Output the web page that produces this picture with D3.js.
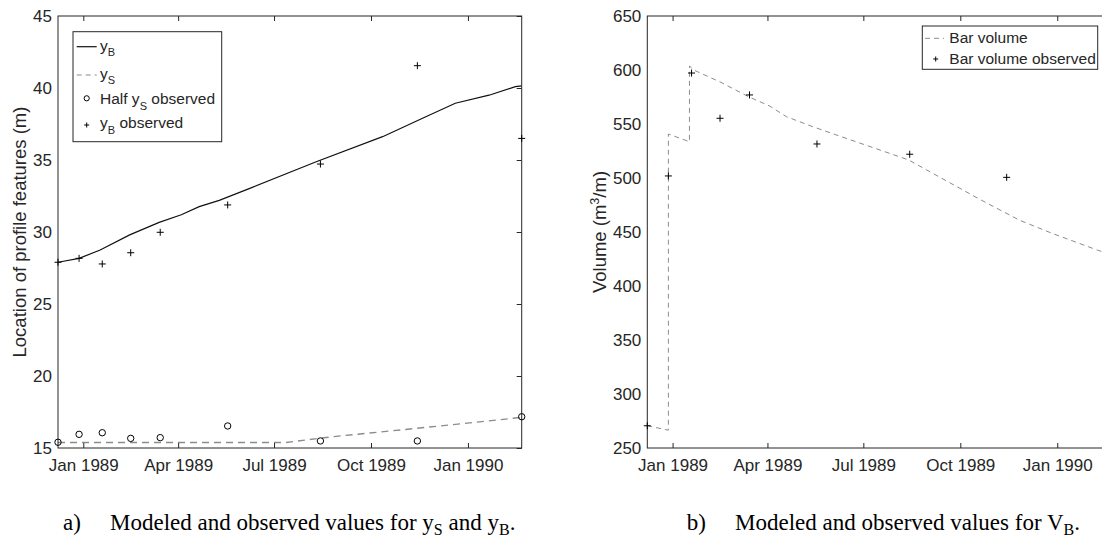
<!DOCTYPE html>
<html>
<head>
<meta charset="utf-8">
<script src="https://cdn.jsdelivr.net/npm/d3@7"></script>
<style>
  body { margin: 0; background: #fff; }
  text { font-family: "Liberation Sans", Arial, sans-serif; fill: #262626; }
  .caption text { font-family: "Liberation Serif", "Times New Roman", serif; fill: #000; }
</style>
</head>
<body>
<svg id="chart"></svg>
<script>
// observation dates (same for both panels)
var obsDates = ['1988-12-08', '1988-12-28', '1989-01-19', '1989-02-15', '1989-03-15',
                '1989-05-18', '1989-08-14', '1989-11-14', '1990-02-21'];
var yBObserved = [27.9, 28.17, 27.78, 28.56, 29.98, 31.88, 34.72, 41.55, 36.5];
var halfYSObserved = [15.4, 15.95, 16.06, 15.67, 15.72, 16.53, 15.49, 15.49, 17.17];
var volObserved = [270.6, 501.9, 597.2, 555.3, 576.9, 531.5, 522, 500.6];

// modeled y_B
var yBDates = ['1988-12-08', '1988-12-28', '1989-01-17', '1989-02-14', '1989-03-14', '1989-04-04',
               '1989-04-21', '1989-05-10', '1989-06-08', '1989-08-10', '1989-10-12', '1989-11-22',
               '1989-12-20', '1990-01-21', '1990-02-15', '1990-02-21'];
var yBModel = [27.9, 28.17, 28.75, 29.8, 30.67, 31.2, 31.76, 32.2, 33.03, 34.88, 36.62, 38.0,
               38.94, 39.5, 40.09, 40.15];

// modeled y_S
var ySDates = ['1988-12-08', '1989-07-12', '1989-08-25', '1989-11-14', '1990-01-14', '1990-02-21'];
var ySModel = [15.38, 15.38, 15.78, 16.37, 16.83, 17.13];

// modeled bar volume (jumps repeat a date)
var volDates = ['1988-12-08', '1988-12-28', '1988-12-28', '1989-01-17', '1989-01-17', '1989-01-21',
                '1989-02-15', '1989-03-14', '1989-04-03', '1989-04-19', '1989-05-14', '1989-06-05',
                '1989-08-13', '1989-10-19', '1989-11-26', '1989-12-27', '1990-02-08', '1990-02-21'];
var volModel = [270.6, 266.5, 540.7, 533.6, 603.7, 600, 589, 575.3, 566.7, 556.8, 547.5, 540,
                516.7, 480.5, 461, 448.8, 433.3, 429];

var xTickLabels = ['1989-01-01', '1989-04-01', '1989-07-01', '1989-10-01', '1990-01-01'];
var yTicksA = [15, 20, 25, 30, 35, 40, 45];
var yTicksB = [250, 300, 350, 400, 450, 500, 550, 600, 650];

var parse = d3.timeParse('%Y-%m-%d');
var plotTop = 16, plotBottom = 448;
var xDomain = [parse('1988-12-08'), parse('1990-02-21')];

var svg = d3.select('#chart').attr('width', 1102).attr('height', 540);

var plus = 'M-3.5,0H3.5M0,-3.5V3.5';

function pairs(dates, vals) {
  return dates.map(function(d, i) { return [parse(d), vals[i]]; });
}

// text with subscript / superscript parts
function richText(t, parts, size, shift, small) {
  var pending = 0;
  parts.forEach(function(p) {
    var s;
    if (p.sub !== undefined || p.sup !== undefined) {
      var d = p.sub !== undefined ? shift : -shift;
      s = t.append('tspan').attr('font-size', small).attr('dy', pending + d)
        .text(p.sub !== undefined ? p.sub : p.sup);
      pending = -d;
    } else {
      s = t.append('tspan').attr('dy', pending).text(p.t);
      pending = 0;
    }
  });
  return t;
}

function drawAxes(x, y, yTicks, rightTicks) {
  var ticks = xTickLabels.map(parse);
  var xl = x.range()[0], xr = x.range()[1];

  var gb = svg.append('g').attr('transform', 'translate(0,' + plotBottom + ')')
    .call(d3.axisBottom(x).tickValues(ticks).tickFormat(d3.timeFormat('%b %Y'))
      .tickSizeInner(-5).tickSizeOuter(0).tickPadding(11));
  var gt = svg.append('g').attr('transform', 'translate(0,' + plotTop + ')')
    .call(d3.axisTop(x).tickValues(ticks).tickFormat('').tickSizeInner(-5).tickSizeOuter(0));
  var gl = svg.append('g').attr('transform', 'translate(' + xl + ',0)')
    .call(d3.axisLeft(y).tickValues(yTicks).tickSize(0).tickPadding(6));
  var all = [gb, gt, gl];
  if (rightTicks) {
    all.push(svg.append('g').attr('transform', 'translate(' + xr + ',0)')
      .call(d3.axisRight(y).tickValues(yTicks).tickFormat('').tickSizeInner(-5).tickSizeOuter(0)));
  }
  all.forEach(function(g) {
    g.select('.domain').remove();
    g.selectAll('line').attr('stroke', '#262626');
    g.selectAll('text').attr('font-size', 17).attr('fill', '#262626')
      .attr('font-family', '"Liberation Sans", Arial, sans-serif');
  });

  svg.append('rect')
    .attr('x', xl).attr('y', plotTop)
    .attr('width', xr - xl).attr('height', plotBottom - plotTop)
    .attr('fill', 'none').attr('stroke', '#262626').attr('stroke-width', 1);
}

// ---------- panel a ----------
var xA = d3.scaleTime().domain(xDomain).range([58, 521.7]);
var yA = d3.scaleLinear().domain([15, 45]).range([plotBottom, plotTop]);

svg.append('clipPath').attr('id', 'clipA').append('rect')
  .attr('x', 58).attr('y', plotTop).attr('width', 521.7 - 58).attr('height', plotBottom - plotTop);

var lineA = d3.line().x(function(d) { return xA(d[0]); }).y(function(d) { return yA(d[1]); });

svg.append('path').datum(pairs(ySDates, ySModel))
  .attr('clip-path', 'url(#clipA)')
  .attr('d', lineA).attr('fill', 'none')
  .attr('stroke', '#8c8c8c').attr('stroke-width', 1.4).attr('stroke-dasharray', '7,5');

svg.append('path').datum(pairs(yBDates, yBModel))
  .attr('clip-path', 'url(#clipA)')
  .attr('d', lineA).attr('fill', 'none')
  .attr('stroke', '#111').attr('stroke-width', 1.2);

drawAxes(xA, yA, yTicksA, true);

svg.selectAll('circle.halfys')
  .data(pairs(obsDates, halfYSObserved))
  .enter().append('circle')
  .attr('class', 'halfys')
  .attr('cx', function(d) { return xA(d[0]); })
  .attr('cy', function(d) { return yA(d[1]); })
  .attr('r', 3.2).attr('fill', 'none').attr('stroke', '#000').attr('stroke-width', 1);

svg.selectAll('path.ybobs')
  .data(pairs(obsDates, yBObserved))
  .enter().append('path')
  .attr('class', 'ybobs')
  .attr('transform', function(d) { return 'translate(' + xA(d[0]) + ',' + yA(d[1]) + ')'; })
  .attr('d', plus).attr('stroke', '#000').attr('stroke-width', 1);

svg.append('text')
  .attr('transform', 'translate(26,' + (plotTop + plotBottom) / 2 + ') rotate(-90)')
  .attr('text-anchor', 'middle').attr('font-size', 18.5)
  .text('Location of profile features (m)');

// legend a
var legA = svg.append('g');
legA.append('rect').attr('x', 73).attr('y', 31.7).attr('width', 148.7).attr('height', 110)
  .attr('fill', '#fff').attr('stroke', '#262626');
legA.append('line').attr('x1', 76.7).attr('x2', 96.7).attr('y1', 46.7).attr('y2', 46.7)
  .attr('stroke', '#111').attr('stroke-width', 1.2);
legA.append('line').attr('x1', 76.7).attr('x2', 96.7).attr('y1', 75).attr('y2', 75)
  .attr('stroke', '#8c8c8c').attr('stroke-width', 1.2).attr('stroke-dasharray', '5,4');
legA.append('circle').attr('cx', 86.7).attr('cy', 98.3).attr('r', 2.6)
  .attr('fill', 'none').attr('stroke', '#000');
legA.append('path').attr('transform', 'translate(86.7,125)').attr('d', 'M-2.5,0H2.5M0,-2.5V2.5')
  .attr('stroke', '#000');

[[50.7, [{t: 'y'}, {sub: 'B'}]],
 [78.7, [{t: 'y'}, {sub: 'S'}]],
 [104, [{t: 'Half y'}, {sub: 'S'}, {t: ' observed'}]],
 [128.3, [{t: 'y'}, {sub: 'B'}, {t: ' observed'}]]].forEach(function(e) {
  richText(legA.append('text').attr('x', 100).attr('y', e[0]).attr('font-size', 15.5), e[1], 15.5, 5.5, 11);
});

// ---------- panel b ----------
var xB = d3.scaleTime().domain(xDomain).range([647.3, 647.3 + 463.7]);
var yB = d3.scaleLinear().domain([250, 650]).range([plotBottom, plotTop]);

var lineB = d3.line().x(function(d) { return xB(d[0]); }).y(function(d) { return yB(d[1]); });

svg.append('path').datum(pairs(volDates, volModel))
  .attr('d', lineB).attr('fill', 'none')
  .attr('stroke', '#8c8c8c').attr('stroke-width', 1).attr('stroke-dasharray', '5,4');

drawAxes(xB, yB, yTicksB, false);

svg.selectAll('path.volobs')
  .data(pairs(obsDates.slice(0, volObserved.length), volObserved))
  .enter().append('path')
  .attr('class', 'volobs')
  .attr('transform', function(d) { return 'translate(' + xB(d[0]) + ',' + yB(d[1]) + ')'; })
  .attr('d', plus).attr('stroke', '#000').attr('stroke-width', 1);

richText(svg.append('text')
  .attr('transform', 'translate(606,' + (plotTop + plotBottom) / 2 + ') rotate(-90)')
  .attr('text-anchor', 'middle').attr('font-size', 18.5),
  [{t: 'Volume (m'}, {sup: '3'}, {t: '/m)'}], 18.5, 7, 12.5);

// legend b
var legB = svg.append('g');
legB.append('rect').attr('x', 922.3).attr('y', 26).attr('width', 175.4).attr('height', 43.3)
  .attr('fill', '#fff').attr('stroke', '#262626');
legB.append('line').attr('x1', 925).attr('x2', 944).attr('y1', 38.3).attr('y2', 38.3)
  .attr('stroke', '#8c8c8c').attr('stroke-width', 1).attr('stroke-dasharray', '5,4');
legB.append('path').attr('transform', 'translate(935.7,59)').attr('d', 'M-2.5,0H2.5M0,-2.5V2.5')
  .attr('stroke', '#000');
legB.append('text').attr('x', 949.3).attr('y', 43.3).attr('font-size', 15.5).text('Bar volume');
legB.append('text').attr('x', 949.3).attr('y', 63.8).attr('font-size', 15.5).text('Bar volume observed');

// ---------- captions ----------
function caption(xLabel, xText, label, parts) {
  var g = svg.append('g').attr('class', 'caption');
  g.append('text').attr('x', xLabel).attr('y', 530).attr('font-size', 23).text(label);
  richText(g.append('text').attr('x', xText).attr('y', 530).attr('font-size', 23), parts, 23, 5, 16);
}
caption(63, 110, 'a)', [{t: 'Modeled and observed values for y'}, {sub: 'S'}, {t: ' and y'}, {sub: 'B'}, {t: '.'}]);
caption(686.7, 735, 'b)', [{t: 'Modeled and observed values for V'}, {sub: 'B'}, {t: '.'}]);
</script>
</body>
</html>
